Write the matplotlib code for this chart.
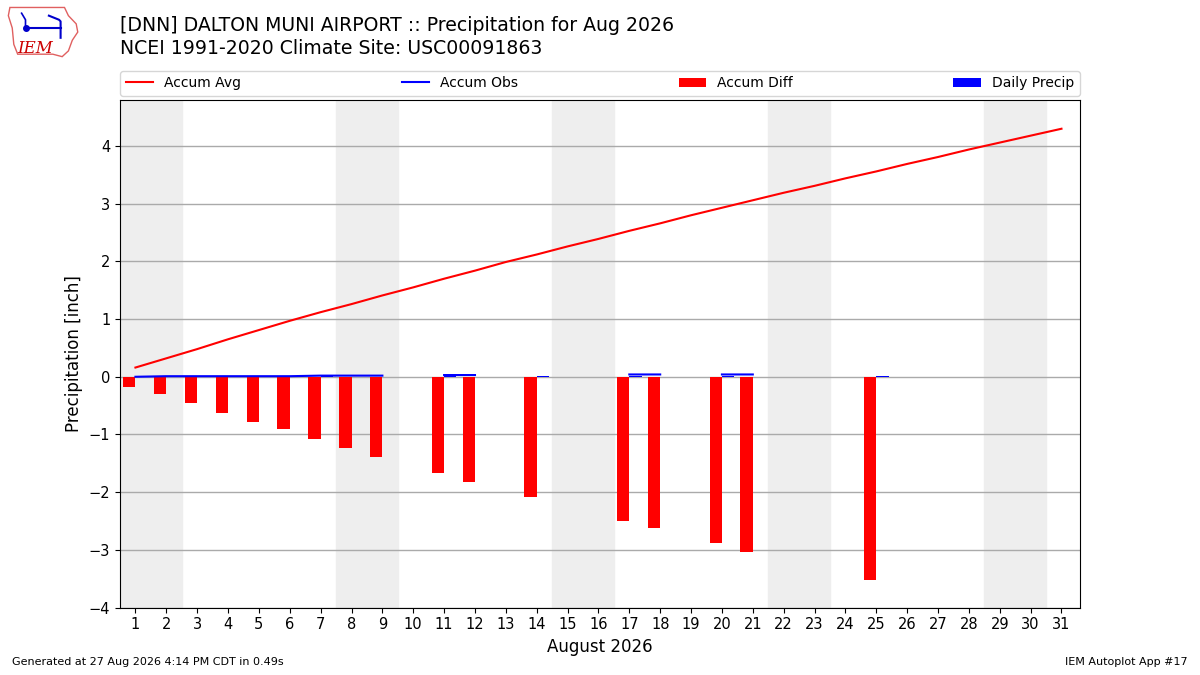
import numpy as np
import matplotlib
matplotlib.use("Agg")
import matplotlib.pyplot as plt
from matplotlib.patches import Polygon

# days of August 2026
days = np.arange(1, 32)

# accumulated climatology (inch)
accum_avg = [0.16, 0.32, 0.48, 0.65, 0.81, 0.97, 1.12, 1.26, 1.41, 1.55,
             1.70, 1.84, 1.99, 2.12, 2.26, 2.39, 2.53, 2.66, 2.80, 2.93,
             3.06, 3.19, 3.31, 3.44, 3.56, 3.69, 3.81, 3.94, 4.06, 4.18, 4.30]

# accumulated observed (nan = missing day)
nan = np.nan
accum_obs = [0.00, 0.01, 0.01, 0.01, 0.01, 0.01, 0.02, 0.02, 0.02, nan,
             0.03, 0.03, nan, 0.03, nan, nan, 0.04, 0.04, nan, 0.04,
             0.04, nan, nan, nan, 0.03, nan, nan, nan, nan, nan, nan]

# accumulated departure
accum_diff = [-0.17, -0.30, -0.45, -0.63, -0.78, -0.90, -1.08, -1.23, -1.39, nan,
              -1.67, -1.83, nan, -2.09, nan, nan, -2.50, -2.62, nan, -2.89,
              -3.03, nan, nan, nan, -3.53, nan, nan, nan, nan, nan, nan]

# daily precip
daily_precip = [0.00, 0.01, 0.00, 0.00, 0.00, 0.00, 0.01, 0.00, 0.00, nan,
                0.01, 0.00, nan, 0.02, nan, nan, 0.01, 0.00, nan, 0.01,
                0.00, nan, nan, nan, 0.02, nan, nan, nan, nan, nan, nan]

# weekends (Sat/Sun)
weekends = [1, 8, 15, 22, 29]

fig = plt.figure(figsize=(12, 6.75), dpi=100)
ax = fig.add_axes([0.1, 0.1, 0.8, 0.752])

for sat in weekends:
    ax.axvspan(sat - 0.5, sat + 1.5, color="#eeeeee", zorder=0)

ax.plot(days, accum_avg, color="r", lw=1.5, label="Accum Avg", zorder=3)
ax.plot(days, accum_obs, color="b", lw=1.5, label="Accum Obs", zorder=3)
ax.bar(days, accum_diff, width=-0.4, align="edge", color="r",
       label="Accum Diff", zorder=2)
ax.bar(days, daily_precip, width=0.4, align="edge", color="b",
       label="Daily Precip", zorder=2)

ax.set_xlim(0.5, 31.6)
ax.set_ylim(-4.0, 4.8)
ax.set_xticks(days)
ax.set_yticks(range(-4, 5))
ax.tick_params(labelsize=10.5)
ax.grid(axis="y", color="#aaaaaa", lw=1)
ax.set_axisbelow(True)
ax.set_xlabel("August 2026", fontsize=12)
ax.set_ylabel("Precipitation [inch]", fontsize=12)

ax.legend(loc="lower left", bbox_to_anchor=(0, 1.008, 1, 0.05), ncol=4,
          mode="expand", fontsize=10, borderaxespad=0, handlelength=2)

fig.text(0.1, 0.962, "[DNN] DALTON MUNI AIRPORT :: Precipitation for Aug 2026",
         fontsize=13.6, va="center")
fig.text(0.1, 0.928, "NCEI 1991-2020 Climate Site: USC00091863",
         fontsize=13.6, va="center")

fig.text(0.01, 0.015, "Generated at 27 Aug 2026 4:14 PM CDT in 0.49s", fontsize=8)
fig.text(0.99, 0.015, "IEM Autoplot App #17", fontsize=8, ha="right")

# rough IEM logo
logo = fig.add_axes([0.005, 0.91, 0.065, 0.085])
logo.set_xlim(0, 100)
logo.set_ylim(0, 70)
logo.axis("off")
iowa = [(5, 65), (75, 65), (80, 55), (90, 45), (92, 35), (85, 25), (80, 12),
        (72, 5), (60, 8), (15, 8), (10, 20), (8, 40), (3, 55)]
logo.add_patch(Polygon(iowa, closed=True, fill=False, ec="#e06060", lw=1))
logo.text(14, 10, "IEM", color="#cc0000", fontsize=12, family="serif",
          style="italic")
logo.plot([25, 70], [40, 40], color="#0000cc", lw=1.5)
logo.plot([25], [40], "o", color="#0000cc", ms=4)
logo.plot([20, 25, 25], [58, 50, 40], color="#0000cc", lw=1.2)
logo.plot([55, 68, 70, 70], [55, 50, 48, 28], color="#0000cc", lw=1.5)

fig.savefig("out.png", dpi=100)
